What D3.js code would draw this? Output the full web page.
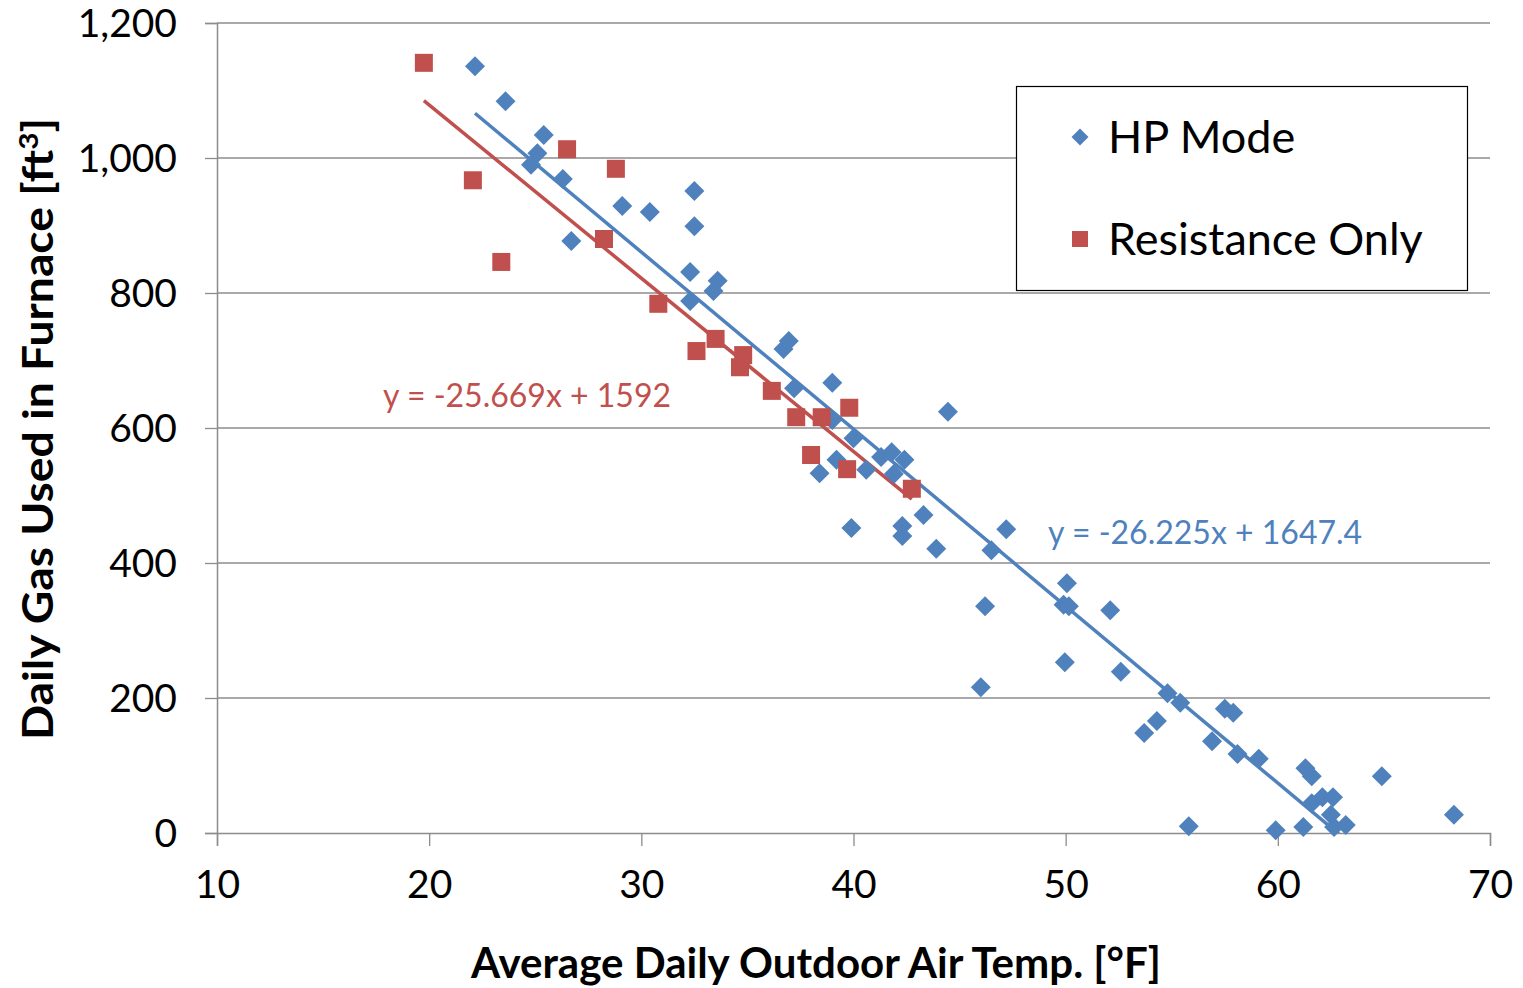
<!DOCTYPE html>
<html><head><meta charset="utf-8">
<script src="https://cdn.jsdelivr.net/npm/d3@7"></script>
<style>body{margin:0;background:#fff}svg{display:block}</style>
</head><body>
<svg id="c" width="1523" height="988"></svg>
<script>
const hpX = [22.16,23.6,25.4,25.1,24.8,26.3,26.7,29.1,30.4,32.5,32.5,32.3,32.3,33.6,33.4,36.7,36.95,37.2,39.0,39.2,38.4,40.0,39.9,40.6,41.3,41.8,42.4,41.9,42.3,42.3,43.3,43.9,44.45,47.2,46.5,46.2,46.0,50.06,49.9,50.15,49.96,52.1,52.6,54.8,55.4,54.3,53.7,57.5,57.9,56.9,58.1,59.1,61.3,61.6,61.6,62.1,62.6,62.5,62.65,63.2,61.2,59.9,55.8,64.9,68.3,39.0];
const hpY = [1136,1084,1034,1007,990,969,877,929,920,951,899,831,788,818,803,717,729,659,667,553,533,585,452,538,557,564,553,532,455,440,471,421,624,450,419,336,216,370,338,336,253,330,239,207,193,166,148,184,178,136,117,110,96,84,44,53,53,27,9,12,9,4,10,84,27,612];
const resX = [19.75,22.06,23.4,26.5,28.8,28.24,30.8,33.5,32.6,34.8,34.65,36.15,37.3,38.5,39.8,38.0,39.7,42.75];
const resY = [1141,967,846,1013,984,880,784,732,714,708,690,655,616,616,630,560,539,510];
const hpTrend = [-26.225, 1647.4];
const resTrend = [-25.669, 1592];
const seriesNames = ["HP Mode", "Resistance Only"];
const xTicks = [10,20,30,40,50,60,70];
const yTicks = [0,200,400,600,800,1000,1200];
const hpLabel = "y = -26.225x + 1647.4";
const resLabel = "y = -25.669x + 1592";

const blue = "#4F81BD", red = "#C0504D", grid = "#8c8c8c";
const svg = d3.select("#c");
const x = d3.scaleLinear().domain([10,70]).range([217,1490]);
const y = d3.scaleLinear().domain([0,1200]).range([833,23]);
const font = "Lato, 'Open Sans', sans-serif";

// gridlines
svg.append("g").selectAll("line").data(yTicks.filter(d=>d>0)).join("line")
  .attr("x1",217).attr("x2",1490).attr("y1",d=>y(d)).attr("y2",d=>y(d))
  .attr("stroke",grid).attr("stroke-width",1.3);

// axes
const yAx = svg.append("g").attr("transform","translate(217,0)")
  .call(d3.axisLeft(y).tickValues(yTicks).tickSize(12).tickPadding(28).tickFormat(d3.format(",")));
const xAx = svg.append("g").attr("transform","translate(0,833)")
  .call(d3.axisBottom(x).tickValues(xTicks).tickSize(13).tickPadding(24).tickFormat(d3.format("d")));
[yAx,xAx].forEach(g=>{
  g.select(".domain").attr("stroke",grid).attr("stroke-width",1.5);
  g.selectAll(".tick line").attr("stroke",grid).attr("stroke-width",1.3);
  g.selectAll("text").attr("fill","#000").style("font-family",font).style("font-size","39px");
});
yAx.selectAll("text").attr("dy","0.35em");
xAx.selectAll("text").attr("dy","0.71em");

// trend lines (clipped to plot area)
svg.append("clipPath").attr("id","pa").append("rect")
  .attr("x",217).attr("y",23).attr("width",1490-217).attr("height",833-23);
function trend(xs, t, color){
  const [a,b] = d3.extent(xs);
  svg.append("line").attr("clip-path","url(#pa)")
    .attr("x1",x(a)).attr("y1",y(t[0]*a+t[1]))
    .attr("x2",x(b)).attr("y2",y(t[0]*b+t[1]))
    .attr("stroke",color).attr("stroke-width",3.5);
}
trend(resX,resTrend,red);
trend(hpX,hpTrend,blue);

// markers
const diamond = "M0,-10L10,0L0,10L-10,0Z";
svg.append("g").selectAll("path").data(hpX.map((d,i)=>[d,hpY[i]])).join("path")
  .attr("d",diamond).attr("transform",d=>`translate(${x(d[0])},${y(d[1])})`)
  .attr("fill",blue);
svg.append("g").selectAll("rect").data(resX.map((d,i)=>[d,resY[i]])).join("rect")
  .attr("x",d=>x(d[0])-9).attr("y",d=>y(d[1])-9).attr("width",18).attr("height",18)
  .attr("fill",red);

// equation labels
svg.append("text").attr("x",383).attr("y",407).attr("fill",red)
  .style("font-family",font).style("font-size","32px").text(resLabel);
svg.append("text").attr("x",1048).attr("y",544).attr("fill",blue)
  .style("font-family",font).style("font-size","32px").text(hpLabel);

// legend
svg.append("rect").attr("x",1016.5).attr("y",86.5).attr("width",451).attr("height",204)
  .attr("fill","#fff").attr("stroke","#000").attr("stroke-width",1.2);
svg.append("path").attr("d",diamond).attr("transform","translate(1080,137) scale(0.85)").attr("fill",blue);
svg.append("rect").attr("x",1072).attr("y",231).attr("width",16).attr("height",16).attr("fill",red);
svg.append("text").attr("x",1108).attr("y",153).style("font-family",font).style("font-size","45px").text(seriesNames[0]);
svg.append("text").attr("x",1108).attr("y",255).style("font-family",font).style("font-size","45px").text(seriesNames[1]);

// axis titles
const tfont = "Lato, 'Open Sans', sans-serif";
svg.append("text").attr("x",816).attr("y",978).attr("text-anchor","middle")
  .attr("textLength",690).attr("lengthAdjust","spacingAndGlyphs")
  .style("font-family",tfont).style("font-weight","bold").style("font-size","42px")
  .text("Average Daily Outdoor Air Temp. [°F]");
const yt = svg.append("text").attr("transform","translate(53,429) rotate(-90)").attr("text-anchor","middle")
  .attr("textLength",622).attr("lengthAdjust","spacingAndGlyphs")
  .style("font-family",tfont).style("font-weight","bold").style("font-size","42px");
yt.append("tspan").text("Daily Gas Used in Furnace [ft");
yt.append("tspan").attr("dy",-15).style("font-size","27px").text("3");
yt.append("tspan").attr("dy",15).text("]");
</script>
</body></html>
